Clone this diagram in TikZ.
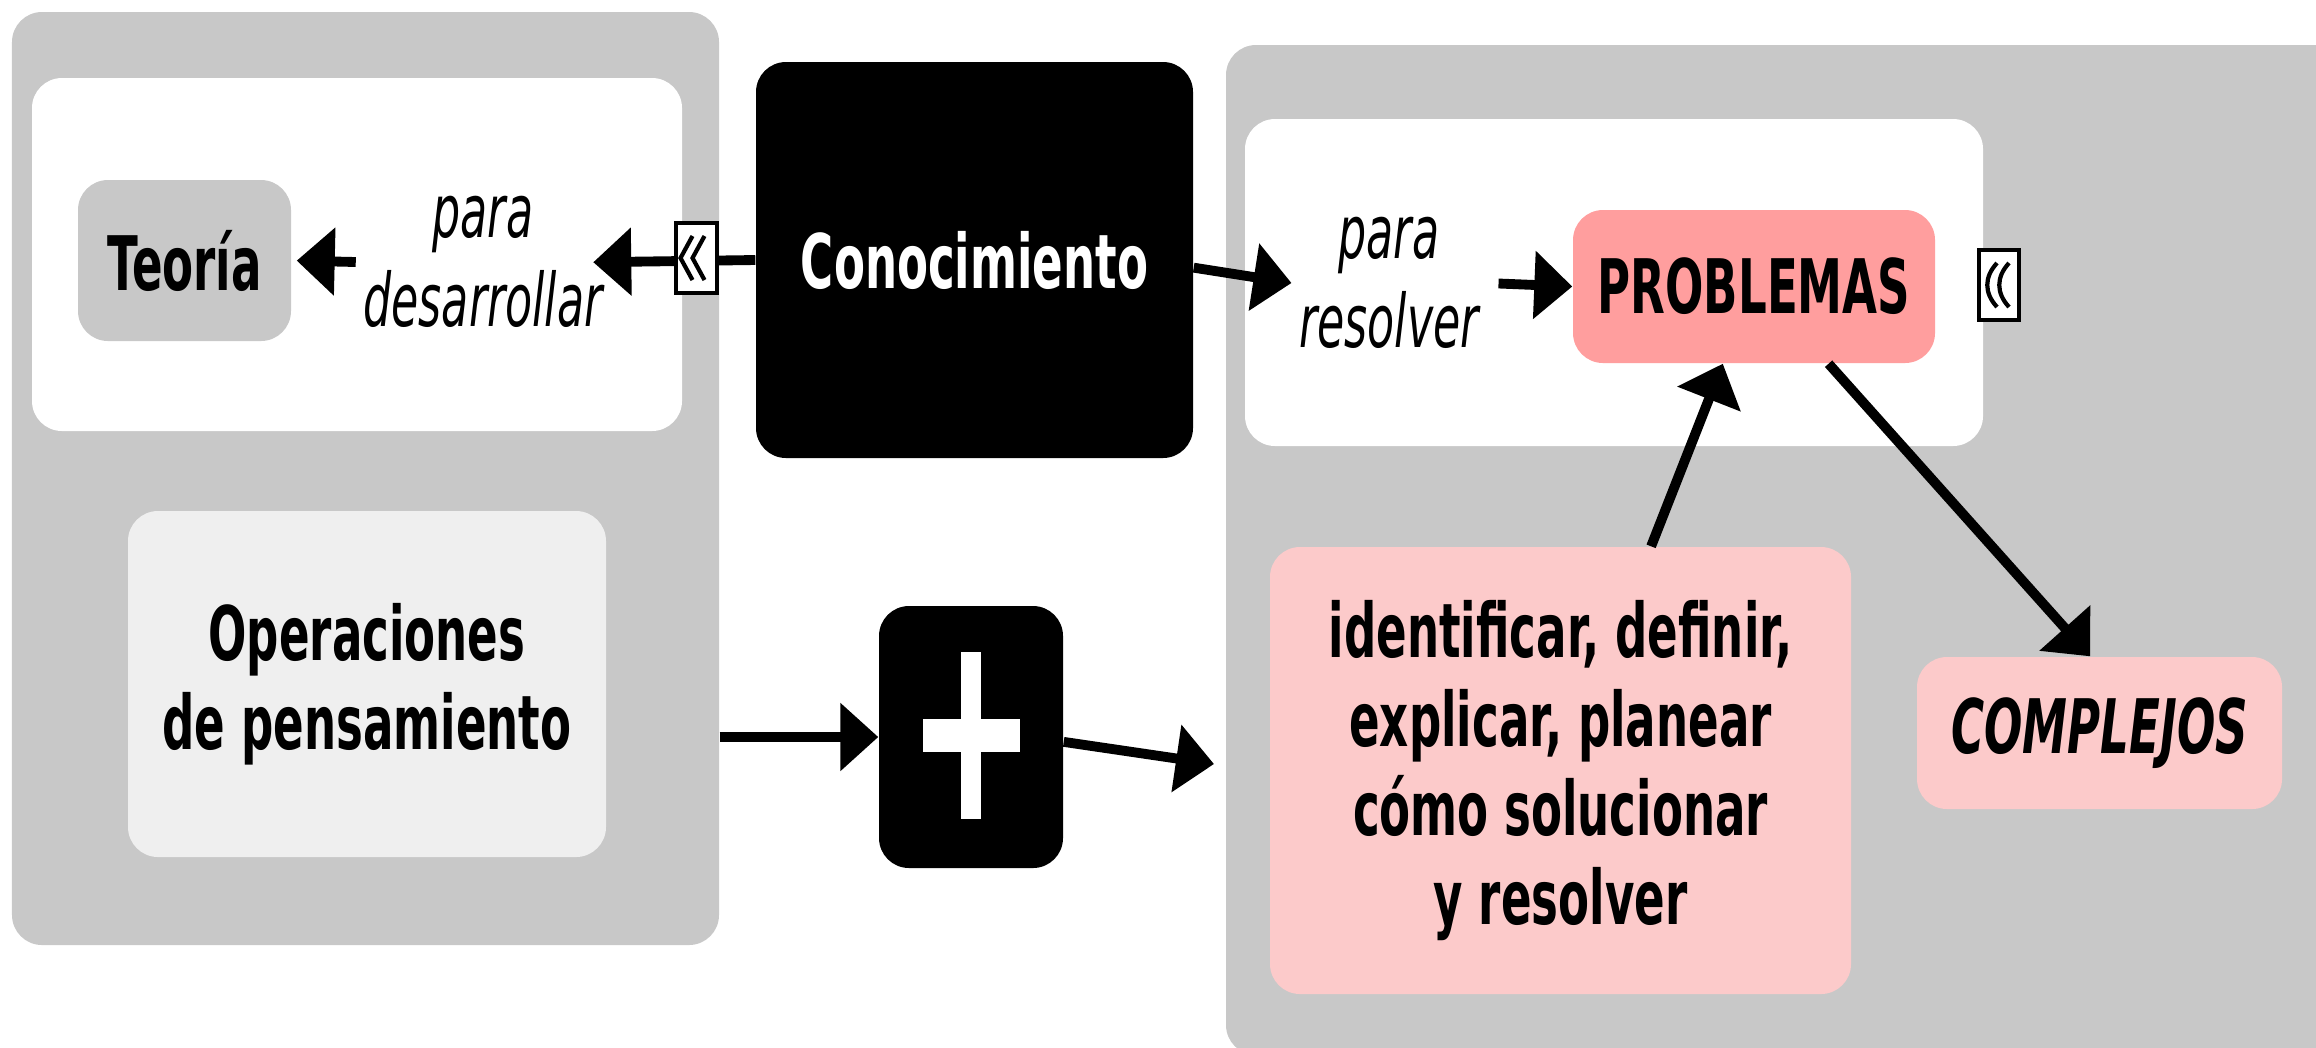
\documentclass[tikz,border=0pt]{standalone}
\usepackage{fontspec}
\setmainfont{DejaVu Sans}[FakeStretch=0.6]
\usetikzlibrary{arrows.meta}

\definecolor{panelgray}{RGB}{200,200,200}
\definecolor{lightbox}{RGB}{239,239,239}
\definecolor{problemred}{RGB}{255,158,158}
\definecolor{softpink}{RGB}{252,202,202}

\begin{document}
\begin{tikzpicture}[x=1cm,y=-1cm,
    panel/.style={fill=panelgray, rounded corners=0.3cm, inner sep=0pt},
    whitepanel/.style={fill=white, rounded corners=0.3cm, inner sep=0pt},
    box/.style={rounded corners=0.3cm, inner sep=0pt, align=center,
      font=\fontsize{21.4}{25.4}\selectfont\bfseries},
    lbl/.style={align=center, inner sep=2pt,
      font=\fontsize{21}{25.5}\selectfont\itshape},
    icon/.style={draw, fill=white, line width=1.2pt, minimum width=0.41cm,
      minimum height=0.70cm, inner sep=0pt},
    arr/.style={line width=2.8pt, -{Triangle[length=0.38cm,width=0.66cm]}}]

      \useasboundingbox (0,0) rectangle (23.16,10.47);
      \clip (0,0) rectangle (23.16,10.47);

      \node[panel, minimum width=7.07cm, minimum height=9.33cm] (leftPanel) at (3.655,4.785) {};
      \node[panel, minimum width=11.3cm, minimum height=10.1cm] (rightPanel) at (17.91,5.50) {};
      \node[whitepanel, minimum width=6.50cm, minimum height=3.53cm] (leftWhite) at (3.57,2.545) {};
      \node[whitepanel, minimum width=7.38cm, minimum height=3.27cm] (rightWhite) at (16.14,2.825) {};

      \node[box, fill=panelgray, minimum width=2.13cm, minimum height=1.61cm] (teoria) at (1.845,2.605) {Teoría};
      \node[lbl] (paraDes) at (4.83,2.62) {para\\desarrollar};
      \node[box, fill=black, text=white, minimum width=4.37cm, minimum height=3.96cm] (conoc) at (9.745,2.60) {Conocimiento};
      \node[lbl] (paraRes) at (13.89,2.83) {para\\resolver};
      \node[box, fill=problemred, minimum width=3.62cm, minimum height=1.53cm] (problemas) at (17.54,2.865) {PROBLEMAS};
      \node[box, fill=lightbox, minimum width=4.78cm, minimum height=3.46cm] (operaciones) at (3.67,6.84) {Operaciones\\de pensamiento};
      \node[box, fill=black, minimum width=1.84cm, minimum height=2.62cm] (plus) at (9.71,7.37) {};
      \node[box, fill=softpink, minimum width=5.81cm, minimum height=4.47cm] (identificar) at (15.605,7.705)
        {identificar, definir,\\explicar, planear\\cómo solucionar\\y resolver};
      \node[box, fill=softpink, minimum width=3.65cm, minimum height=1.52cm] (complejos) at (20.995,7.33) {\itshape COMPLEJOS};

      \fill[white] ([shift={(-0.10,-0.85)}]plus.center) rectangle ++(0.20,1.67);
      \fill[white] ([shift={(-0.485,-0.185)}]plus.center) rectangle ++(0.97,0.33);

      \draw[arr, shorten >=-0.17cm] (conoc.west) -- (paraDes.east);
      \draw[arr, shorten >=0.05cm] (paraDes.west) -- (teoria.east);
      \draw[arr] (conoc.358) -- (paraRes.west);
      \draw[arr, shorten <=0.12cm] (paraRes.east) -- (problemas.west);
      \draw[arr] (leftPanel.east |- plus.west) -- (plus.west);
      \coordinate (inR) at (12.14,7.64);
      \draw[arr] (plus.357) -- (inR);
      \draw[arr] (identificar.68) -- (problemas.248);
      \draw[arr] (problemas.314) -- (complejos.97);

      \node[icon] (iconL) at (6.965,2.58) {};
      \node[icon, minimum width=0.40cm] (iconR) at (19.99,2.85) {};
      \foreach \d in {0,0.12}{
        \draw[line width=1.2pt] ([shift={(-0.04+\d,-0.22)}]iconL.center) -- ++(-0.12,0.22) -- ++(0.12,0.22);
        \draw[line width=1.2pt] ([shift={(-0.02+\d,-0.22)}]iconR.center)
          .. controls ([shift={(-0.15+\d,-0.08)}]iconR.center) and ([shift={(-0.15+\d,0.08)}]iconR.center)
          .. ([shift={(-0.02+\d,0.22)}]iconR.center);
      }

    \end{tikzpicture}
\end{document}
